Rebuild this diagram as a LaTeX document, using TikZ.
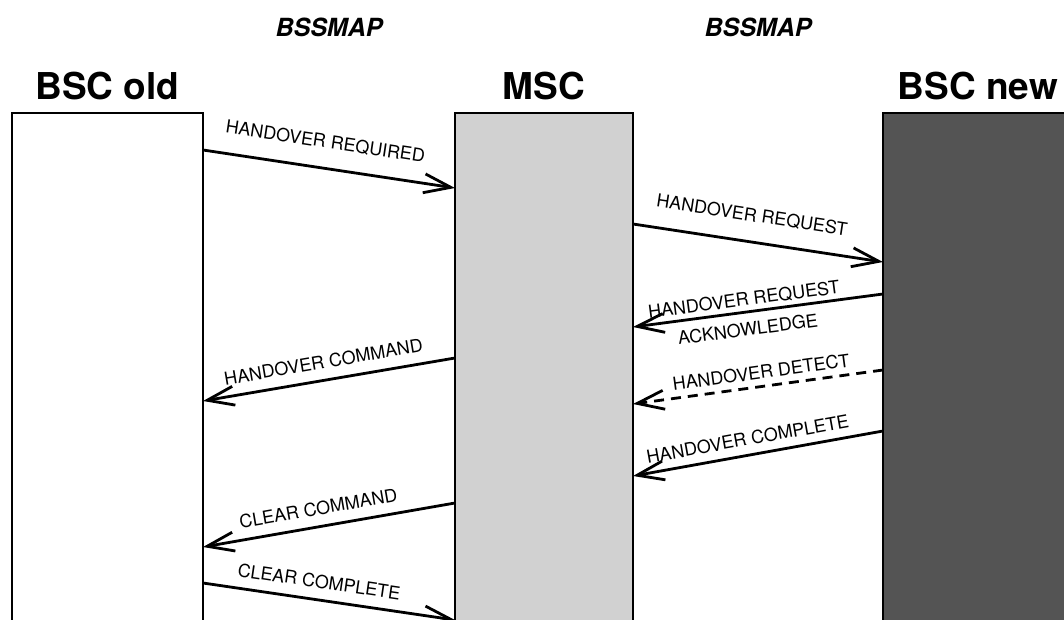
\documentclass[tikz,border=0pt]{standalone}
\usepackage{fontspec}
\setmainfont{TeX Gyre Heros}
\usetikzlibrary{arrows.meta,positioning,calc}
\definecolor{mscgray}{gray}{0.82}
\definecolor{newgray}{gray}{0.33}
\tikzset{
  entity/.style={draw, line width=2pt, anchor=north west, inner sep=0pt, outer sep=0pt, minimum height=560pt},
  title/.style={font=\bfseries\fontsize{37}{40}\selectfont, inner sep=0pt},
  proto/.style={font=\bfseries\itshape\fontsize{25}{28}\selectfont, inner sep=0pt},
  msg/.style={line width=2.8pt, -{Straight Barb[length=27pt,width=19pt]}},
  msgtext/.style={font=\fontsize{18}{20}\selectfont, inner sep=0pt, sloped},
}
\begin{document}
\begin{tikzpicture}[x=1pt,y=-1pt]
  \useasboundingbox (0,0) rectangle (1064,620);
  \clip (0,0) rectangle (1064,620);
  % the three entities
  \node[entity, fill=white, minimum width=191pt] (old) at (12,113) {};
  \node[entity, fill=mscgray, minimum width=178pt] (msc) at (455,113) {};
  \node[entity, fill=newgray, minimum width=190pt] (new) at (883,113) {};
  \node[title, above=13pt of old] (oldname) {BSC old};
  \node[title, above=13pt of msc] (mscname) {MSC};
  \node[title, above=13pt of new] (newname) {BSC new};
  % interface
  \node[proto] (protoa) at ($(old.north east)!0.5!(msc.north west)+(0,-86)$) {BSSMAP};
  \node[proto] (protob) at ($(msc.north east)!0.5!(new.north west)+(0,-86)$) {BSSMAP};
  % messages
  \draw[msg] ([yshift=-37pt]old.north east) -- ([yshift=-75pt]msc.north west)
    node[msgtext, pos=0.47, above=18pt] {HANDOVER REQUIRED};
  \draw[msg] ([yshift=-111pt]msc.north east) -- ([yshift=-149pt]new.north west)
    node[msgtext, pos=0.46, above=18pt] {HANDOVER REQUEST};
  \draw[msg] ([yshift=-181pt]new.north west) -- ([yshift=-214pt]msc.north east)
    node[msgtext, pos=0.55, above=4pt] {HANDOVER REQUEST}
    node[msgtext, pos=0.55, below=9pt] {ACKNOWLEDGE};
  \draw[msg] ([yshift=-245pt]msc.north west) -- ([yshift=-288pt]old.north east)
    node[msgtext, pos=0.51, above=10pt] {HANDOVER COMMAND};
  \draw[msg, dash pattern=on 10pt off 7pt] ([yshift=-257pt]new.north west) -- ([yshift=-291pt]msc.north east)
    node[msgtext, pos=0.48, above=6pt] {HANDOVER DETECT};
  \draw[msg] ([yshift=-318pt]new.north west) -- ([yshift=-363pt]msc.north east)
    node[msgtext, pos=0.53, above=8pt] {HANDOVER COMPLETE};
  \draw[msg] ([yshift=-390pt]msc.north west) -- ([yshift=-434pt]old.north east)
    node[msgtext, pos=0.53, above=10pt] {CLEAR COMMAND};
  \draw[msg] ([yshift=-470pt]old.north east) -- ([yshift=-507pt]msc.north west)
    node[msgtext, pos=0.45, above=10pt] {CLEAR COMPLETE};
\end{tikzpicture}
\end{document}
